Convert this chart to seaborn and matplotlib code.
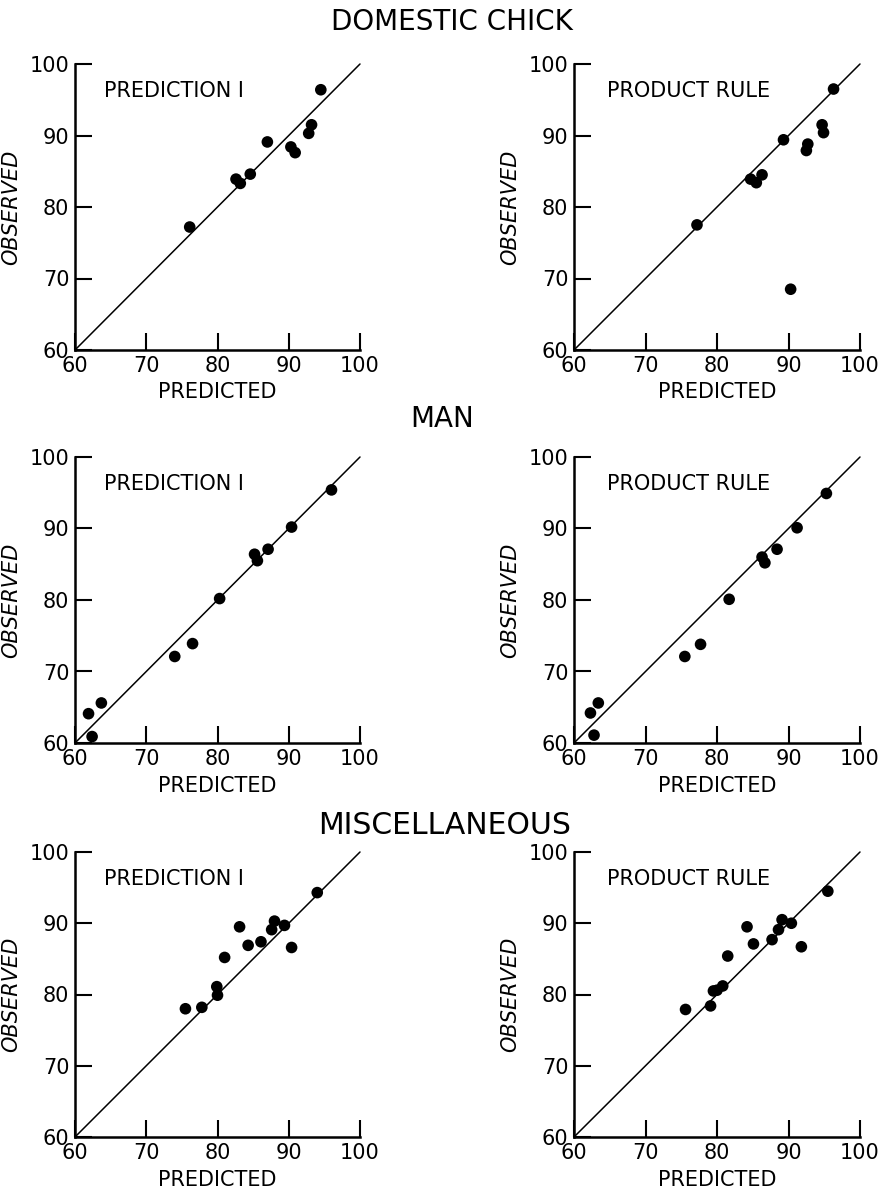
"""Observed vs predicted scatter panels (domestic chick, man, miscellaneous)."""
import matplotlib
matplotlib.use("Agg")
import matplotlib.pyplot as plt
import pandas as pd
import seaborn as sns

# values
chick_pred1_x = [76.1, 82.6, 83.2, 84.6, 87.0, 90.3, 90.9, 92.8, 93.2, 94.5]
chick_pred1_y = [77.2, 83.9, 83.3, 84.6, 89.1, 88.4, 87.6, 90.3, 91.5, 96.4]
chick_prod_x = [77.2, 84.7, 85.5, 86.3, 89.3, 90.3, 92.5, 92.7, 94.7, 94.9, 96.3]
chick_prod_y = [77.5, 83.9, 83.4, 84.5, 89.4, 68.5, 87.9, 88.8, 91.5, 90.4, 96.5]

man_pred1_x = [61.9, 62.4, 63.7, 74.0, 76.5, 80.3, 85.2, 85.6, 87.1, 90.4, 96.0]
man_pred1_y = [64.1, 60.9, 65.6, 72.1, 73.9, 80.2, 86.4, 85.5, 87.1, 90.2, 95.4]
man_prod_x = [62.3, 62.8, 63.4, 75.5, 77.7, 81.7, 86.3, 86.7, 88.4, 91.2, 95.3]
man_prod_y = [64.2, 61.1, 65.6, 72.1, 73.8, 80.1, 86.0, 85.2, 87.1, 90.1, 94.9]

misc_pred1_x = [75.5, 77.8, 79.9, 80.0, 81.0, 83.1, 84.3, 86.1, 87.6, 88.0, 89.4, 90.4, 94.0]
misc_pred1_y = [78.0, 78.2, 81.1, 79.9, 85.2, 89.5, 86.9, 87.4, 89.1, 90.3, 89.7, 86.6, 94.3]
misc_prod_x = [75.6, 79.1, 79.5, 80.0, 80.8, 81.5, 84.2, 85.1, 87.7, 88.6, 89.1, 90.4, 91.8, 95.5]
misc_prod_y = [77.9, 78.4, 80.5, 80.6, 81.2, 85.4, 89.5, 87.1, 87.7, 89.1, 90.5, 90.0, 86.7, 94.5]

group_titles = ["DOMESTIC CHICK", "MAN", "MISCELLANEOUS"]
panel_labels = ["PREDICTION I", "PRODUCT RULE"]
ticks = [60, 70, 80, 90, 100]
diagonal = [60, 100]

panels = [
    [(chick_pred1_x, chick_pred1_y), (chick_prod_x, chick_prod_y)],
    [(man_pred1_x, man_pred1_y), (man_prod_x, man_prod_y)],
    [(misc_pred1_x, misc_pred1_y), (misc_prod_x, misc_prod_y)],
]

sns.set_theme(style="white")
plt.rcParams["font.family"] = ["DejaVu Sans"]
plt.rcParams["text.color"] = "black"

W, H = 885, 1196
fig = plt.figure(figsize=(W / 100, H / 100), dpi=100)

# axes boxes in pixels: left, top, right, bottom
col_x = [(75, 360), (574, 860)]
row_y = [(64, 350), (457, 743), (852, 1137)]
title_y = [22, 419, 825]
title_x = [452, 442, 445]
title_size = [20, 20, 21.5]
label_pos = [(0.102, 0.905), (0.115, 0.905)]

for r, row in enumerate(panels):
    fig.text(title_x[r] / W, 1 - title_y[r] / H, group_titles[r],
             ha="center", va="center", fontsize=title_size[r], color="black")
    for c, (xs, ys) in enumerate(row):
        x0, x1 = col_x[c]
        y0, y1 = row_y[r]
        ax = fig.add_axes([x0 / W, 1 - y1 / H, (x1 - x0) / W, (y1 - y0) / H])
        ax.set_facecolor("white")
        ax.plot(diagonal, diagonal, color="black", lw=1.1, clip_on=False)
        df = pd.DataFrame({"PREDICTED": xs, "OBSERVED": ys})
        sns.scatterplot(data=df, x="PREDICTED", y="OBSERVED", ax=ax, color="black",
                        s=70, edgecolor="none", clip_on=False, zorder=3)
        ax.set_xlim(60, 100)
        ax.set_ylim(60, 100)
        ax.set_xticks(ticks)
        ax.set_yticks(ticks)
        ax.tick_params(direction="in", length=12, width=1.5, labelsize=15,
                       pad=4, color="black", labelcolor="black",
                       bottom=True, left=True)
        for side in ["top", "right"]:
            ax.spines[side].set_visible(False)
        for side in ["left", "bottom"]:
            ax.spines[side].set_linewidth(1.8)
            ax.spines[side].set_color("black")
        ax.set_xlabel("PREDICTED", fontsize=15, color="black", labelpad=5)
        ax.set_ylabel("OBSERVED", fontsize=15, color="black", fontstyle="italic", labelpad=6)
        lx, ly = label_pos[c]
        ax.text(lx, ly, panel_labels[c], transform=ax.transAxes,
                ha="left", va="center", fontsize=15, color="black")

fig.savefig("out.png", dpi=100, facecolor="white")
